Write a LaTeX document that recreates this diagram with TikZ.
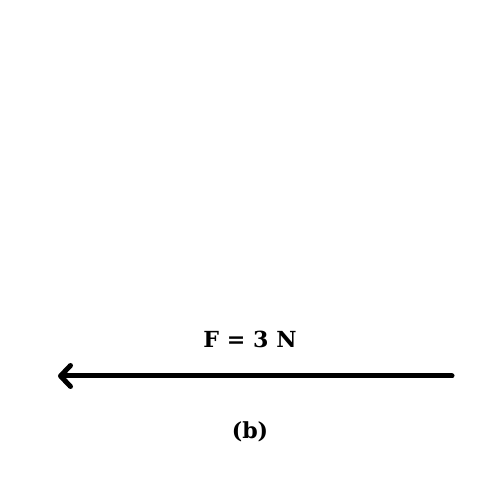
\documentclass[tikz,border=0pt]{standalone}
\usepackage{fontspec}
\setmainfont{DejaVu Serif}
\usetikzlibrary{arrows.meta}
\tikzset{
  force/.style={line width=0.1cm, line cap=round, -{Straight Barb[length=2mm,width=4.2mm,line cap=round,line join=round]}},
  lbl/.style={font=\bfseries\fontsize{12.6}{15}\selectfont, inner sep=0pt}
}
\begin{document}
\begin{tikzpicture}
\useasboundingbox (0,0) rectangle (10,10);
\coordinate (start) at (9.04,2.48);
\coordinate (tip) at (1.16,2.48);
\draw[force] (start) -- (tip);
\node[lbl] (F) at (5.0,3.22) {F = 3 N};
\node[lbl] (b) at (5.0,1.36) {(b)};
\end{tikzpicture}
\end{document}
